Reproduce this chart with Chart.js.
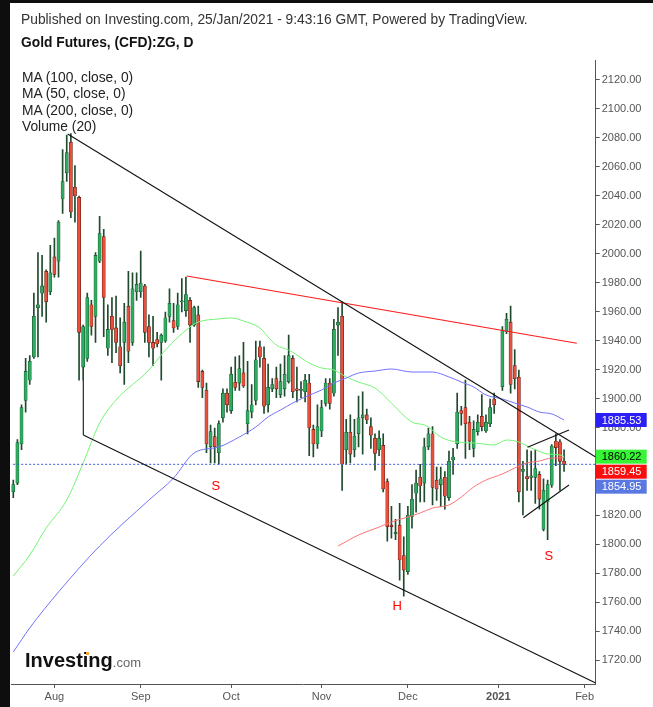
<!DOCTYPE html>
<html>
<head>
<meta charset="utf-8">
<script src="https://cdn.jsdelivr.net/npm/chart.js@4.4.0/dist/chart.umd.min.js"></script>
<style>
  html, body { margin: 0; padding: 0; width: 653px; height: 707px; overflow: hidden; background: #0e0e0e; font-family: "Liberation Sans", Arial, sans-serif; }
  #wrap { position: absolute; left: 10px; top: 3px; width: 643px; height: 704px; background: #fff; }
  .txt { position: absolute; white-space: nowrap; color: #222; font-size: 13.8px; line-height: 13.8px; }
  .legend { position: absolute; left: 22px; top: 70px; font-size: 13.8px; line-height: 16.3px; color: #222; white-space: nowrap; }
  #logo { position: absolute; left: 25px; top: 650px; white-space: nowrap; line-height: 20px; }
  #logo b { font-size: 20px; color: #111; }
  #logo span { font-size: 13px; color: #666; }
  #dot { position: absolute; left: 86px; top: 652px; width: 3px; height: 3px; background: #f5a623; }
</style>
</head>
<body>
<div id="wrap"><canvas id="myChart" width="643" height="704"></canvas></div>
<div class="txt" style="left:21px; top:13.3px; color:#333;">Published on Investing.com, 25/Jan/2021 - 9:43:16 GMT, Powered by TradingView.</div>
<div class="txt" style="left:21px; top:35.6px; font-weight:bold; color:#111;">Gold Futures, (CFD):ZG, D</div>
<div class="legend">MA (100, close, 0)<br>MA (50, close, 0)<br>MA (200, close, 0)<br>Volume (20)</div>
<div id="logo"><b>Investing</b><span>.com</span></div>
<div id="dot"></div>
<script>
// daily bars, Jul 20 2020 .. Jan 25 2021 (slot 118 = Jan 1, no bar)
const opens = [1836,1842,1869,1899,1913,1929,1963,1973,1988,1974,1998,1995,2038,2056,2077,2046,2039,1922,1928,1965,
  1957,1995,2012,1935,1957,1949,1936,1939,1964,1939,1974,1974,1978,1950,1939,1941,1939,1940,1957,1954,
  1950,1967,1961,1968,1951,1958,1919,1906,1867,1874,1863,1887,1904,1892,1911.5,1911,1918,1883,1891,1899,
  1936,1928,1896,1907,1914,1903,1907,1912,1928,1907,1906,1905,1911,1879,1869,1878,1897,1911,1904,1951,
  1957,1865,1877,1865,1876,1887,1889,1881,1873,1865,1868,1843,1813,1807,1813,1792,1781,1819,1835,1846,
  1842,1867,1876,1844,1841,1846,1832,1858,1869,1892,1894,1884,1866,1877.5,1888,1878,1883,1900,null,1908.5,
  1946.4,1953,1923,1915,1850,1846.5,1846,1846,1848,1810,1829,1840.5,1871,1870.5,1857];
const highs = [1844,1872,1896,1928,1930,1973,2001,1999,1989,2006,2011,2023,2072,2082,2083,2061,2040,1951,1973,1968,
  2001,2026,2017,1965,1970,1971,1956,1966,1988,1987,1987,2002,1979,1958,1957,1946,1945,1960,1976,1966,
  1973,1983,1984,1970,1964,1964,1920,1911,1882,1880,1885,1907,1907,1922,1929,1930,1939,1926,1910,1940,
  1940,1936,1924,1914,1922,1924,1930,1944,1930,1922,1912,1917,1917,1882,1896,1899,1914,1914,1955,1963,
  1967,1886,1889,1886,1902,1905,1893,1887,1876,1878,1876,1845,1826,1817,1828,1805,1826,1841,1851,1855,
  1873,1880,1881,1853,1853,1850,1864,1866,1904,1895,1913,1888,1885,1889,1903,1889,1900,1904,null,1950,
  1959,1964,1934,1920,1857,1865,1864,1865,1850,1845,1844,1868.5,1876,1872,1865];
const lows = [1832,1841,1865,1891,1910,1928,1929,1957,1953,1972,1984,1984,2028,2050,2025,2022,1913,1913,1926,1944,
  1939,1994,1943,1930,1925,1932,1918,1910,1925,1937,1968,1970,1939,1929,1923,1936,1913,1939,1953,1946,
  1948,1960,1957,1939,1950,1908,1901,1863,1856,1856,1855,1884,1891,1890,1906,1906,1908,1876,1887,1896,
  1922,1890,1891,1905,1901,1901,1902,1911,1901,1898,1901,1898,1861,1860,1866,1874,1895,1893,1902,1930,
  1837,1855,1856,1860,1867,1862,1883,1866,1851,1861,1836,1802,1804,1803,1775,1764,1779,1811,1822,1829,
  1829,1865,1827,1830,1826,1824,1830,1848,1866,1882,1859,1865,1860,1875,1878,1877,1881,1890,null,1906,
  1945,1904,1907,1829,1820,1837,1837,1828,1824,1809,1803,1839,1854,1837,1850];
const closes = [1841,1870,1894,1919,1926,1957,1965,1978,1967,1987,1986,2022,2050,2070,2029,2040,1946,1950,1970,1950,
  1999,2014,1970,1948,1948,1939,1923,1953,1933,1976,1979,1980,1946,1939,1935,1938,1944,1956,1966,1949,
  1965,1967.5,1972,1951,1963,1912,1908,1869,1877.5,1867,1883,1904,1896,1917,1908,1921,1909,1892,1896,1927,
  1929,1895,1908,1910,1907,1912,1917,1930,1905,1906,1906.5,1913,1880,1869,1881,1894,1911,1897,1948,1953,
  1855,1877,1862,1874.5,1887,1889,1885.5,1875,1862.5,1873,1838,1812,1812,1808,1789,1782,1820,1831,1842,1840,
  1867,1876,1839,1838,1845,1833,1857,1860,1891,1890,1883,1871,1879,1884,1881,1884,1894,1896,null,1947.6,
  1955,1910,1914,1836,1851.5,1845,1847,1852,1831,1837,1841,1867.6,1866.5,1857,1854.95];

// moving averages at a few bars
const ma50Idx = [0,4,8,13,17,21,25,33,37,43,45,50,53,56,60,62,64,67,69,72,75,78,81,84,88,90,92,97,100,101,104,108,112,117,120,123,126,130,133,134];
const ma50Val = [1777.9,1792.4,1811.0,1830.3,1855.9,1883.4,1899.3,1920.0,1933.8,1949.7,1953.1,1955.2,1955.9,1953.8,1949.0,1942.8,1937.2,1933.8,1930.3,1924.8,
  1921.4,1920.0,1915.2,1911.7,1907.6,1902.8,1897.2,1884.1,1882.1,1880.7,1873.8,1870.3,1869.7,1868.3,1871.7,1870.3,1866.2,1862.1,1861.4,1860.22];
const ma100Idx = [0,4,11,21,33,39,44,50,55,59,62,65,68,71,75,78,81,84,88,92,97,102,106,109,112,115,119,122,125,128,131,134];
const ma100Val = [1725.5,1742.1,1766.9,1798.6,1830.3,1845.5,1862.8,1866.9,1873.8,1880.7,1887.6,1892.4,1897.2,1901.4,1906.2,1911.0,1914.5,1917.9,1919.3,1920.7,
  1918.6,1918.6,1915.2,1911.7,1908.3,1902.8,1900.0,1897.2,1894.5,1891.0,1889.7,1885.53];
const ma200Idx = [79,84,89,92,96,99,102,106,109,112,115,119,122,125,128,131,134];
const ma200Val = [1798.6,1806.2,1811.7,1815.2,1818.6,1821.4,1824.8,1826.9,1832.4,1839.3,1844.1,1848.3,1852.4,1855.9,1857.2,1859.3,1859.45];

// drawn trend lines: [bar index, price]
const descLine = [[13.24, 2082.8], [141.7, 1860.0]];
const lowerLine = [[17.03, 1875.2], [141.7, 1704.1]];
const vertLine = [[17.03, 1913.0], [17.03, 1875.2]];
const resistLine = [[42.2, 1984.8], [137.1, 1938.4]];
const wedgeTop = [[125.1, 1866.7], [135.2, 1878.6]];
const wedgeBottom = [[124.1, 1818.1], [135.2, 1840.7]];

const patternText = ['S', 'H', 'S'];
const patternIdx = [49.3, 93.4, 130.3];
const patternVal = [1839.5, 1756.8, 1791.7];

const monthTickIdx = [10, 31, 53, 75, 96, 118, 139];
const monthTickLabels = ['Aug', 'Sep', 'Oct', 'Nov', 'Dec', '2021', 'Feb'];
const priceTicks = [1720,1740,1760,1780,1800,1820,1840,1860,1880,1900,1920,1940,1960,1980,2000,2020,2040,2060,2080,2100,2120];

const lastClose = closes[closes.length - 1];
const FONT = '"Liberation Sans", Arial, sans-serif';
Chart.defaults.font.family = FONT;

const upFill = '#2dab5f', upEdge = '#1d4d2e';
const downFill = '#e8503c', downEdge = '#5e1e16';
const wickColor = '#1f4a2d';

const wickData = [], bodyData = [];
closes.forEach((c, i) => {
    if (c === null) return;
    wickData.push({x: i, y: [lows[i], highs[i]]});
    bodyData.push({x: i, y: [opens[i], c]});
});
const isUp = ctx => ctx.raw && ctx.raw.y[1] >= ctx.raw.y[0];

const pts = arr => arr.map(p => ({x: p[0], y: p[1]}));
const seg = (arr, color) => ({
    type: 'line', data: pts(arr), borderColor: color, borderWidth: 1.1,
    pointRadius: 0, fill: false, order: 0
});
const maLine = (idx, val, color) => ({
    type: 'line', data: idx.map((i, k) => ({x: i, y: val[k]})), borderColor: color,
    borderWidth: 1, pointRadius: 0, fill: false, cubicInterpolationMode: 'monotone', order: 1
});

const patternLabels = {
    id: 'patternLabels',
    afterDatasetsDraw(chart) {
        const {ctx, scales: {x, y}} = chart;
        ctx.save();
        ctx.fillStyle = '#ff0000';
        ctx.font = '13px ' + FONT;
        ctx.textAlign = 'center';
        ctx.textBaseline = 'middle';
        patternText.forEach((t, k) => ctx.fillText(t, x.getPixelForValue(patternIdx[k]), y.getPixelForValue(patternVal[k])));
        ctx.restore();
    }
};

const priceBadges = {
    id: 'priceBadges',
    afterDraw(chart) {
        const {ctx, scales: {y}, chartArea} = chart;
        const badges = [
            {v: ma100Val[ma100Val.length - 1], bg: '#2b1ff5', fg: '#fff'},
            {v: ma50Val[ma50Val.length - 1], bg: '#35f535', fg: '#000'},
            {v: ma200Val[ma200Val.length - 1], bg: '#fa0d0d', fg: '#fff'},
            {v: lastClose, bg: '#5a78e2', fg: '#fff'}
        ].sort((a, b) => b.v - a.v);
        const h = 14;
        let prevBottom = -Infinity;
        ctx.save();
        ctx.font = '11px ' + FONT;
        ctx.textBaseline = 'middle';
        badges.forEach(b => {
            let top = y.getPixelForValue(b.v) - h / 2;
            if (top < prevBottom + 1) top = prevBottom + 1;
            prevBottom = top + h;
            ctx.fillStyle = b.bg;
            ctx.fillRect(chartArea.right, top, 51, h);
            ctx.fillStyle = b.fg;
            ctx.fillText(b.v.toFixed(2), chartArea.right + 6, top + h / 2 + 0.5);
        });
        ctx.restore();
    }
};

const config = {
    type: 'bar',
    data: {
        datasets: [
            seg(descLine, '#111'),
            seg(lowerLine, '#111'),
            seg(vertLine, '#111'),
            seg(resistLine, '#ff1a1a'),
            seg(wedgeTop, '#111'),
            seg(wedgeBottom, '#111'),
            {
                type: 'line', data: [{x: -1, y: lastClose}, {x: 142, y: lastClose}],
                borderColor: '#3d5bd8', borderWidth: 1, borderDash: [2, 2], pointRadius: 0, order: 1
            },
            maLine(ma100Idx, ma100Val, '#7272ff'),
            maLine(ma50Idx, ma50Val, '#74f474'),
            maLine(ma200Idx, ma200Val, '#ff7272'),
            {
                label: 'bodies', data: bodyData, grouped: false, barThickness: 3.2, minBarLength: 1,
                backgroundColor: ctx => isUp(ctx) ? upFill : downFill,
                borderColor: ctx => isUp(ctx) ? upEdge : downEdge,
                borderWidth: 0.6, borderSkipped: false, order: 2
            },
            {
                label: 'wicks', data: wickData, grouped: false, barThickness: 1,
                backgroundColor: wickColor, borderWidth: 0, order: 3
            }
        ]
    },
    options: {
        responsive: false,
        animation: false,
        layout: {padding: {left: 1, top: 57, right: 0, bottom: 0}},
        plugins: {legend: {display: false}, tooltip: {enabled: false}},
        scales: {
            x: {
                type: 'linear', min: -0.56, max: 141.7, offset: false,
                grid: {offset: false, drawOnChartArea: false, drawTicks: true, tickLength: 4, color: '#555'},
                border: {display: true, color: '#555'},
                afterBuildTicks: s => { s.ticks = monthTickIdx.map(v => ({value: v})); },
                afterFit: s => { s.height = 23; s.paddingLeft = 0; s.paddingRight = 0; },
                ticks: {
                    autoSkip: false, maxRotation: 0, padding: 2, color: '#555',
                    font: ctx => ({size: 11, weight: ctx.tick && ctx.tick.value === 118 ? 'bold' : 'normal'}),
                    callback: v => monthTickLabels[monthTickIdx.indexOf(v)]
                }
            },
            y: {
                type: 'linear', position: 'right', min: 1703.45, max: 2133.79,
                grid: {offset: false, drawOnChartArea: false, drawTicks: true, tickLength: 4, color: '#555'},
                border: {display: true, color: '#555'},
                afterBuildTicks: s => { s.ticks = priceTicks.map(v => ({value: v})); },
                afterFit: s => { s.width = 57.3; s.paddingTop = 0; s.paddingBottom = 0; },
                ticks: {padding: 2, color: '#555', font: {size: 11}, callback: v => v.toFixed(2)}
            }
        }
    },
    plugins: [patternLabels, priceBadges]
};

const myChart = new Chart(document.getElementById('myChart'), config);
</script>
</body>
</html>
